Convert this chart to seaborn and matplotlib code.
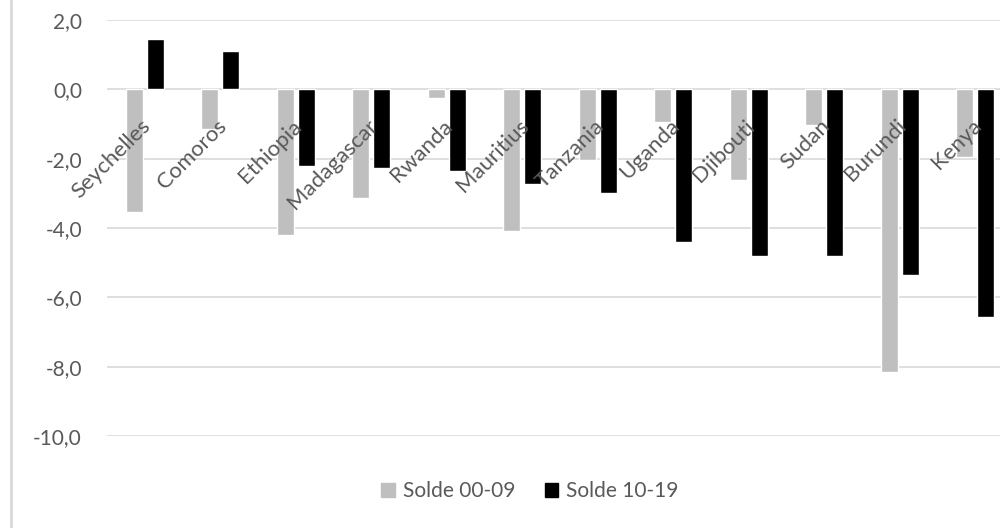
import numpy as np
import pandas as pd
import matplotlib
matplotlib.use("Agg")
import matplotlib.pyplot as plt
import seaborn as sns
from matplotlib.lines import Line2D
from matplotlib.ticker import FuncFormatter
from matplotlib.transforms import ScaledTranslation

# Data
countries = ["Seychelles", "Comoros", "Ethiopia", "Madagascar", "Rwanda", "Mauritius",
             "Tanzania", "Uganda", "Djibouti", "Sudan", "Burundi", "Kenya"]
solde_00_09 = [-3.55, -1.15, -4.20, -3.12, -0.26, -4.07, -2.05, -0.95, -2.60, -1.04, -8.15, -1.94]
solde_10_19 = [1.44, 1.12, -2.20, -2.28, -2.34, -2.72, -3.00, -4.39, -4.80, -4.80, -5.35, -6.56]
series = ["Solde 00-09", "Solde 10-19"]
colors = ["#bfbfbf", "#000000"]

df = pd.DataFrame({
    "country": countries * 2,
    "value": solde_00_09 + solde_10_19,
    "serie": [series[0]] * len(countries) + [series[1]] * len(countries),
})

sns.set_style("white")
plt.rcParams["font.family"] = ["Lato", "DejaVu Sans"]
plt.rcParams["axes.axisbelow"] = False
text_col = "#595959"
fs = 15

fig = plt.figure(figsize=(10, 5.28), dpi=100)
ax = fig.add_axes([0.107, 0.174, 0.906, 0.788])

yticks = np.arange(-10, 2.1, 2)
# gridlines below the bars, tick labels above them
for t in yticks:
    ax.axhline(t, color="#d9d9d9", lw=1.2, zorder=0)

sns.barplot(data=df, x="country", y="value", hue="serie", palette=colors,
            width=0.56, gap=0.2, ax=ax, legend=False, zorder=1)

ax.set_ylim(-10, 2)
ax.set_xlim(-0.5, len(countries) - 0.5)
ax.set_yticks(yticks)
ax.yaxis.set_major_formatter(FuncFormatter(lambda v, p: f"{v:.1f}".replace(".", ",")))
ax.grid(False)
for s in ax.spines.values():
    s.set_visible(False)
ax.spines["bottom"].set_position(("data", 0))

ax.set_xlabel("")
ax.set_ylabel("")
ax.tick_params(axis="y", length=0, pad=18, labelsize=fs, labelcolor=text_col)
ax.tick_params(axis="x", length=0, pad=19, labelsize=16, labelcolor=text_col)
ax.set_xticks(range(len(countries)))
ax.set_xticklabels(countries, rotation=45, ha="right", rotation_mode="anchor")
shift = ScaledTranslation(-0.04, 0, fig.dpi_scale_trans)
for lbl in ax.get_xticklabels():
    lbl.set_transform(lbl.get_transform() + shift)

handles = [plt.Rectangle((0, 0), 1, 1, color=c) for c in colors]
fig.legend(handles, series, loc="center", bbox_to_anchor=(0.53, 0.07), ncol=2,
           frameon=False, fontsize=fs, labelcolor=text_col, handlelength=0.65,
           handleheight=0.65, handletextpad=0.4, columnspacing=1.4)

fig.add_artist(Line2D([0.011, 0.011], [0, 1], color="#d9d9d9", lw=2))

plt.savefig("out.png", dpi=100)
